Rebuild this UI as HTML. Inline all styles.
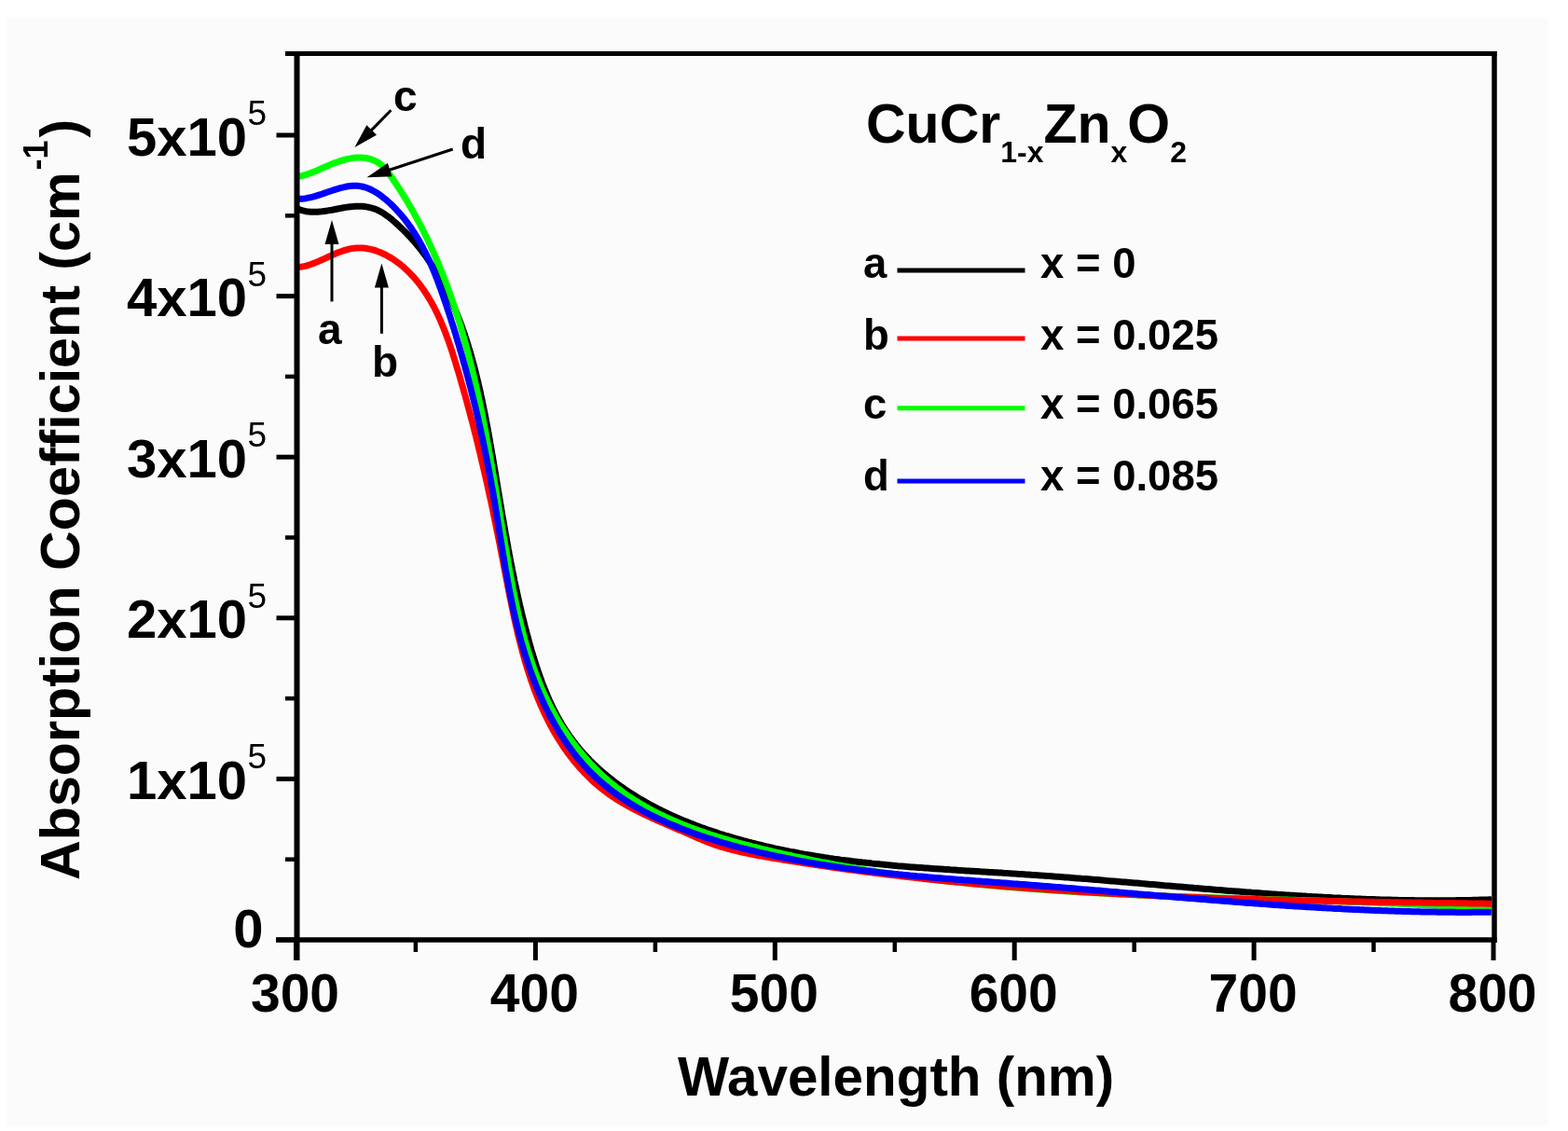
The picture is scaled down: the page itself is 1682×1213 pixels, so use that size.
<!DOCTYPE html><html><head><meta charset="utf-8"><title>Absorption Coefficient vs Wavelength</title>
<style>html,body{margin:0;padding:0;background:#fff;}svg{display:block;}text{font-family:"Liberation Sans",Arial,sans-serif;}</style></head><body>
<svg width="1682" height="1213" viewBox="0 0 1682 1213">
<rect x="0" y="0" width="1682" height="1213" fill="#ffffff"/>
<rect x="7" y="19" width="1654" height="1189" fill="#fbfbfb"/>
<path d="M319.2,223.9L321.5,224.8 323.7,225.6 326.1,226.2 328.4,226.7 330.8,227.1 333.2,227.3 335.7,227.3 338.1,227.3 340.6,227.2 343.1,227.0 345.6,226.8 348.2,226.4 350.7,226.1 353.2,225.6 355.8,225.2 358.4,224.7 360.9,224.2 363.5,223.7 366.0,223.3 368.6,222.8 371.1,222.4 373.6,222.0 376.1,221.7 378.6,221.5 381.1,221.3 383.6,221.2 386.0,221.2 388.4,221.3 390.8,221.5 393.2,221.9 395.5,222.3 397.8,222.8 400.1,223.5 402.3,224.2 404.5,225.1 406.7,226.2 408.8,227.3 410.9,228.5 412.9,229.9 414.9,231.3 416.9,232.7 418.9,234.3 420.8,235.8 422.7,237.5 424.5,239.1 426.4,240.8 428.2,242.5 430.0,244.2 431.8,245.9 433.5,247.6 435.3,249.3 437.0,251.1 438.6,252.9 440.3,254.7 441.9,256.5 443.6,258.3 445.2,260.2 446.7,262.0 448.3,263.9 449.8,265.8 451.3,267.7 452.8,269.6 454.3,271.6 455.7,273.5 457.2,275.5 458.6,277.5 459.9,279.5 461.3,281.5 462.7,283.5 464.0,285.5 465.3,287.6 466.6,289.6 467.9,291.7 469.1,293.8 470.4,295.9 471.6,298.0 472.8,300.1 474.0,302.2 475.1,304.4 476.3,306.5 477.4,308.7 478.5,310.9 479.6,313.1 480.7,315.3 481.8,317.5 482.8,319.7 483.8,321.9 484.9,324.1 485.9,326.4 486.8,328.6 487.8,330.9 488.8,333.2 489.7,335.5 490.6,337.7 491.5,340.0 492.4,342.3 493.3,344.7 494.2,347.0 495.1,349.3 495.9,351.7 496.7,354.0 497.6,356.3 498.4,358.7 499.1,361.1 499.9,363.4 500.7,365.8 501.5,368.2 502.2,370.6 502.9,373.0 503.7,375.4 504.4,377.8 505.1,380.2 505.8,382.6 506.4,385.0 507.1,387.5 507.8,389.9 508.4,392.3 509.1,394.8 509.7,397.2 510.3,399.6 510.9,402.1 511.5,404.5 512.1,407.0 512.7,409.4 513.3,411.9 513.8,414.4 514.4,416.8 515.0,419.3 515.5,421.8 516.0,424.2 516.6,426.7 517.1,429.2 517.6,431.6 518.1,434.1 518.6,436.6 519.1,439.1 519.6,441.5 520.1,444.0 520.6,446.5 521.1,448.9 521.5,451.4 522.0,453.9 522.5,456.4 522.9,458.8 523.4,461.3 523.8,463.8 524.3,466.2 524.7,468.7 525.2,471.2 525.6,473.6 526.0,476.1 526.5,478.5 526.9,481.0 527.3,483.4 527.7,485.9 528.1,488.3 528.6,490.7 529.0,493.2 529.4,495.6 529.8,498.0 530.2,500.5 530.6,502.9 531.0,505.3 531.4,507.7 531.8,510.1 532.2,512.6 532.6,515.0 533.0,517.4 533.4,519.8 533.8,522.2 534.2,524.6 534.6,527.0 535.0,529.4 535.4,531.8 535.8,534.2 536.2,536.6 536.6,539.0 537.0,541.4 537.4,543.8 537.8,546.2 538.2,548.6 538.6,551.0 539.0,553.4 539.4,555.7 539.9,558.1 540.3,560.5 540.7,562.9 541.1,565.3 541.5,567.7 541.9,570.1 542.3,572.4 542.8,574.8 543.2,577.2 543.6,579.6 544.0,582.0 544.5,584.4 544.9,586.7 545.3,589.1 545.8,591.5 546.2,593.9 546.7,596.3 547.1,598.7 547.6,601.1 548.0,603.4 548.5,605.8 549.0,608.2 549.4,610.6 549.9,613.0 550.4,615.4 550.9,617.8 551.4,620.2 551.8,622.6 552.3,625.0 552.8,627.3 553.4,629.7 553.9,632.1 554.4,634.5 554.9,636.9 555.4,639.4 556.0,641.8 556.5,644.2 557.1,646.6 557.6,649.0 558.2,651.4 558.8,653.8 559.3,656.2 559.9,658.7 560.5,661.1 561.1,663.5 561.7,665.9 562.3,668.4 562.9,670.8 563.5,673.2 564.2,675.7 564.8,678.1 565.5,680.6 566.1,683.0 566.8,685.4 567.4,687.9 568.1,690.4 568.8,692.8 569.5,695.3 570.2,697.7 571.0,700.2 571.7,702.6 572.4,705.1 573.2,707.5 574.0,709.9 574.7,712.4 575.5,714.8 576.3,717.2 577.1,719.7 578.0,722.1 578.8,724.5 579.7,726.9 580.6,729.3 581.4,731.7 582.3,734.1 583.3,736.4 584.2,738.8 585.2,741.2 586.1,743.5 587.1,745.8 588.1,748.1 589.1,750.4 590.2,752.7 591.2,755.0 592.3,757.3 593.4,759.5 594.5,761.8 595.7,764.0 596.8,766.2 598.0,768.4 599.2,770.6 600.4,772.7 601.6,774.8 602.9,777.0 604.2,779.1 605.5,781.1 606.8,783.2 608.2,785.2 609.5,787.3 610.9,789.3 612.3,791.2 613.8,793.2 615.2,795.1 616.7,797.0 618.2,798.9 619.7,800.8 621.3,802.7 622.8,804.5 624.4,806.4 626.0,808.2 627.7,809.9 629.3,811.7 631.0,813.5 632.6,815.2 634.3,816.9 636.1,818.6 637.8,820.3 639.5,821.9 641.3,823.6 643.1,825.2 644.9,826.8 646.7,828.4 648.6,830.0 650.4,831.5 652.3,833.1 654.2,834.6 656.1,836.1 658.0,837.6 659.9,839.0 661.9,840.5 663.8,841.9 665.8,843.3 667.8,844.7 669.8,846.1 671.8,847.5 673.9,848.9 675.9,850.2 678.0,851.5 680.0,852.8 682.1,854.1 684.2,855.4 686.3,856.7 688.4,857.9 690.6,859.1 692.7,860.4 694.9,861.6 697.0,862.8 699.2,863.9 701.4,865.1 703.6,866.2 705.8,867.4 708.0,868.5 710.3,869.6 712.5,870.7 714.7,871.7 717.0,872.8 719.3,873.9 721.5,874.9 723.8,875.9 726.1,876.9 728.4,877.9 730.7,878.9 733.0,879.9 735.3,880.8 737.7,881.8 740.0,882.7 742.3,883.6 744.7,884.5 747.0,885.4 749.4,886.3 751.7,887.2 754.1,888.0 756.5,888.9 758.8,889.7 761.2,890.5 763.6,891.3 766.0,892.1 768.4,892.9 770.8,893.7 773.2,894.5 775.6,895.2 778.0,896.0 780.4,896.7 782.8,897.4 785.2,898.1 787.6,898.8 790.0,899.5 792.4,900.2 794.9,900.9 797.3,901.6 799.7,902.2 802.1,902.9 804.5,903.5 806.9,904.1 809.4,904.7 811.8,905.3 814.2,905.9 816.6,906.5 819.0,907.1 821.5,907.7 823.9,908.2 826.3,908.8 828.7,909.3 831.2,909.9 833.6,910.4 836.0,910.9 838.5,911.4 840.9,911.9 843.3,912.4 845.7,912.9 848.2,913.4 850.6,913.8 853.0,914.3 855.5,914.8 857.9,915.2 860.3,915.6 862.8,916.1 865.2,916.5 867.6,916.9 870.1,917.3 872.5,917.7 874.9,918.1 877.4,918.5 879.8,918.9 882.3,919.3 884.7,919.7 887.1,920.0 889.6,920.4 892.0,920.7 894.5,921.1 896.9,921.4 899.3,921.7 901.8,922.1 904.2,922.4 906.7,922.7 909.1,923.0 911.6,923.3 914.0,923.6 916.5,923.9 918.9,924.2 921.4,924.5 923.8,924.8 926.2,925.1 928.7,925.3 931.1,925.6 933.6,925.8 936.0,926.1 938.5,926.4 940.9,926.6 943.4,926.8 945.8,927.1 948.3,927.3 950.8,927.6 953.2,927.8 955.7,928.0 958.1,928.2 960.6,928.4 963.0,928.7 965.5,928.9 967.9,929.1 970.4,929.3 972.8,929.5 975.3,929.7 977.8,929.9 980.2,930.0 982.7,930.2 985.1,930.4 987.6,930.6 990.0,930.8 992.5,931.0 995.0,931.1 997.4,931.3 999.9,931.5 1002.3,931.7 1004.8,931.8 1007.3,932.0 1009.7,932.1 1012.2,932.3 1014.6,932.5 1017.1,932.6 1019.6,932.8 1022.0,932.9 1024.5,933.1 1026.9,933.3 1029.4,933.4 1031.9,933.6 1034.3,933.7 1036.8,933.9 1039.3,934.0 1041.7,934.2 1044.2,934.3 1046.6,934.5 1049.1,934.6 1051.6,934.8 1054.0,934.9 1056.5,935.1 1059.0,935.2 1061.4,935.4 1063.9,935.5 1066.4,935.7 1068.8,935.8 1071.3,936.0 1073.8,936.1 1076.2,936.3 1078.7,936.4 1081.2,936.6 1083.6,936.7 1086.1,936.9 1088.6,937.1 1091.0,937.2 1093.5,937.4 1095.9,937.5 1098.4,937.7 1100.9,937.9 1103.3,938.0 1105.8,938.2 1108.3,938.4 1110.7,938.5 1113.2,938.7 1115.7,938.9 1118.1,939.1 1120.6,939.2 1123.1,939.4 1125.6,939.6 1128.0,939.8 1130.5,940.0 1133.0,940.2 1135.4,940.3 1137.9,940.5 1140.4,940.7 1142.8,940.9 1145.3,941.1 1147.8,941.3 1150.2,941.5 1152.7,941.7 1155.2,941.9 1157.6,942.1 1160.1,942.3 1162.6,942.4 1165.0,942.6 1167.5,942.8 1170.0,943.0 1172.4,943.2 1174.9,943.4 1177.4,943.6 1179.8,943.8 1182.3,944.0 1184.8,944.2 1187.3,944.5 1189.7,944.7 1192.2,944.9 1194.7,945.1 1197.1,945.3 1199.6,945.5 1202.1,945.7 1204.5,945.9 1207.0,946.1 1209.5,946.3 1211.9,946.5 1214.4,946.7 1216.9,946.9 1219.3,947.1 1221.8,947.3 1224.3,947.6 1226.8,947.8 1229.2,948.0 1231.7,948.2 1234.2,948.4 1236.6,948.6 1239.1,948.8 1241.6,949.0 1244.0,949.2 1246.5,949.4 1249.0,949.7 1251.5,949.9 1253.9,950.1 1256.4,950.3 1258.9,950.5 1261.3,950.7 1263.8,950.9 1266.3,951.1 1268.7,951.3 1271.2,951.5 1273.7,951.7 1276.2,951.9 1278.6,952.1 1281.1,952.4 1283.6,952.6 1286.0,952.8 1288.5,953.0 1291.0,953.2 1293.5,953.4 1295.9,953.6 1298.4,953.8 1300.9,954.0 1303.3,954.2 1305.8,954.4 1308.3,954.6 1310.7,954.8 1313.2,955.0 1315.7,955.2 1318.2,955.4 1320.6,955.6 1323.1,955.7 1325.6,955.9 1328.0,956.1 1330.5,956.3 1333.0,956.5 1335.5,956.7 1337.9,956.9 1340.4,957.1 1342.9,957.3 1345.3,957.4 1347.8,957.6 1350.3,957.8 1352.8,958.0 1355.2,958.2 1357.7,958.3 1360.2,958.5 1362.6,958.7 1365.1,958.9 1367.6,959.0 1370.1,959.2 1372.5,959.4 1375.0,959.5 1377.5,959.7 1380.0,959.9 1382.4,960.0 1384.9,960.2 1387.4,960.3 1389.8,960.5 1392.3,960.7 1394.8,960.8 1397.3,961.0 1399.7,961.1 1402.2,961.3 1404.7,961.4 1407.1,961.6 1409.6,961.7 1412.1,961.8 1414.6,962.0 1417.0,962.1 1419.5,962.2 1422.0,962.4 1424.4,962.5 1426.9,962.6 1429.4,962.8 1431.9,962.9 1434.3,963.0 1436.8,963.1 1439.3,963.3 1441.7,963.4 1444.2,963.5 1446.7,963.6 1449.2,963.7 1451.6,963.8 1454.1,963.9 1456.6,964.0 1459.1,964.1 1461.5,964.2 1464.0,964.3 1466.5,964.4 1468.9,964.5 1471.4,964.6 1473.9,964.6 1476.4,964.7 1478.8,964.8 1481.3,964.9 1483.8,964.9 1486.2,965.0 1488.7,965.1 1491.2,965.1 1493.7,965.2 1496.1,965.3 1498.6,965.3 1501.1,965.4 1503.6,965.4 1506.0,965.5 1508.5,965.5 1511.0,965.6 1513.4,965.6 1515.9,965.6 1518.4,965.7 1520.9,965.7 1523.3,965.7 1525.8,965.7 1528.3,965.7 1530.7,965.8 1533.2,965.8 1535.7,965.8 1538.2,965.8 1540.6,965.8 1543.1,965.8 1545.6,965.8 1548.1,965.8 1550.5,965.8 1553.0,965.7 1555.5,965.7 1557.9,965.7 1560.4,965.7 1562.9,965.6 1565.4,965.6 1567.8,965.6 1570.3,965.5 1572.8,965.5 1575.2,965.4 1577.7,965.4 1580.2,965.3 1582.7,965.3 1585.1,965.2 1587.6,965.1 1590.1,965.0 1592.5,965.0 1595.0,964.9 1597.5,964.8 1600.0,964.7" fill="none" stroke="#000000" stroke-width="7.0" stroke-linejoin="round" stroke-linecap="butt"/>
<path d="M319.5,189.4L321.6,189.1 323.8,188.6 326.0,188.0 328.2,187.3 330.5,186.6 332.8,185.7 335.1,184.8 337.4,183.9 339.8,182.9 342.2,181.9 344.6,180.8 347.0,179.8 349.5,178.7 351.9,177.7 354.4,176.6 356.9,175.6 359.4,174.6 362.0,173.7 364.5,172.8 367.0,172.0 369.6,171.3 372.1,170.6 374.7,170.1 377.2,169.6 379.8,169.2 382.3,169.0 384.9,168.9 387.4,169.0 390.0,169.2 392.4,169.5 394.9,170.0 397.3,170.6 399.6,171.4 401.9,172.3 404.1,173.4 406.1,174.7 408.1,176.1 410.0,177.7 411.7,179.5 413.4,181.3 415.0,183.3 416.6,185.3 418.1,187.4 419.6,189.5 421.1,191.6 422.5,193.7 424.0,195.8 425.4,198.0 426.8,200.1 428.2,202.3 429.6,204.4 431.0,206.6 432.3,208.8 433.7,210.9 435.0,213.1 436.3,215.3 437.6,217.5 438.9,219.7 440.2,221.9 441.5,224.1 442.7,226.3 444.0,228.5 445.2,230.7 446.4,233.0 447.6,235.2 448.8,237.4 450.0,239.7 451.2,241.9 452.3,244.1 453.5,246.4 454.6,248.7 455.7,250.9 456.9,253.2 458.0,255.5 459.1,257.7 460.1,260.0 461.2,262.3 462.3,264.6 463.3,266.9 464.4,269.2 465.4,271.5 466.4,273.8 467.4,276.1 468.4,278.4 469.4,280.7 470.4,283.1 471.3,285.4 472.3,287.7 473.2,290.1 474.2,292.4 475.1,294.7 476.0,297.1 476.9,299.4 477.8,301.8 478.7,304.1 479.6,306.5 480.4,308.9 481.3,311.2 482.2,313.6 483.0,316.0 483.8,318.4 484.7,320.8 485.5,323.1 486.3,325.5 487.1,327.9 487.9,330.3 488.7,332.7 489.4,335.1 490.2,337.5 491.0,340.0 491.7,342.4 492.4,344.8 493.2,347.2 493.9,349.6 494.6,352.0 495.3,354.5 496.1,356.9 496.8,359.3 497.4,361.8 498.1,364.2 498.8,366.7 499.5,369.1 500.1,371.6 500.8,374.0 501.5,376.5 502.1,378.9 502.7,381.4 503.4,383.8 504.0,386.3 504.6,388.8 505.2,391.2 505.8,393.7 506.4,396.2 507.0,398.6 507.6,401.1 508.2,403.6 508.8,406.1 509.4,408.6 509.9,411.1 510.5,413.5 511.1,416.0 511.6,418.5 512.2,421.0 512.7,423.5 513.3,426.0 513.8,428.5 514.3,431.0 514.9,433.5 515.4,436.0 515.9,438.5 516.4,441.0 516.9,443.5 517.4,446.0 517.9,448.5 518.4,451.1 518.9,453.6 519.4,456.1 519.9,458.6 520.4,461.1 520.9,463.6 521.3,466.2 521.8,468.7 522.3,471.2 522.8,473.7 523.2,476.2 523.7,478.8 524.2,481.3 524.6,483.8 525.1,486.4 525.5,488.9 526.0,491.4 526.4,493.9 526.9,496.5 527.3,499.0 527.8,501.5 528.2,504.1 528.6,506.6 529.1,509.1 529.5,511.7 530.0,514.2 530.4,516.7 530.8,519.3 531.3,521.8 531.7,524.3 532.1,526.9 532.6,529.4 533.0,532.0 533.4,534.5 533.8,537.0 534.3,539.6 534.7,542.1 535.1,544.6 535.5,547.2 536.0,549.7 536.4,552.2 536.8,554.8 537.2,557.3 537.7,559.9 538.1,562.4 538.5,564.9 538.9,567.5 539.4,570.0 539.8,572.5 540.2,575.1 540.7,577.6 541.1,580.1 541.5,582.7 542.0,585.2 542.4,587.7 542.8,590.2 543.3,592.8 543.7,595.3 544.2,597.8 544.6,600.4 545.0,602.9 545.5,605.4 545.9,607.9 546.4,610.4 546.8,613.0 547.3,615.5 547.8,618.0 548.2,620.5 548.7,623.0 549.2,625.5 549.7,628.1 550.1,630.6 550.6,633.1 551.1,635.6 551.6,638.1 552.1,640.6 552.6,643.1 553.2,645.6 553.7,648.0 554.2,650.5 554.8,653.0 555.3,655.5 555.9,658.0 556.4,660.5 557.0,662.9 557.6,665.4 558.2,667.9 558.8,670.3 559.4,672.8 560.0,675.2 560.6,677.7 561.3,680.1 561.9,682.6 562.6,685.0 563.3,687.4 564.0,689.9 564.7,692.3 565.4,694.7 566.1,697.1 566.9,699.5 567.6,701.9 568.4,704.3 569.2,706.7 570.0,709.1 570.8,711.5 571.6,713.9 572.4,716.2 573.3,718.6 574.1,721.0 575.0,723.3 575.9,725.7 576.9,728.0 577.8,730.3 578.7,732.7 579.7,735.0 580.7,737.3 581.7,739.6 582.7,741.9 583.8,744.2 584.8,746.5 585.9,748.8 587.0,751.0 588.1,753.3 589.3,755.6 590.4,757.8 591.6,760.1 592.8,762.3 594.0,764.5 595.3,766.8 596.5,769.0 597.8,771.2 599.1,773.4 600.4,775.6 601.8,777.7 603.2,779.9 604.6,782.1 606.0,784.2 607.4,786.3 608.9,788.5 610.3,790.6 611.8,792.7 613.4,794.7 614.9,796.8 616.5,798.9 618.0,800.9 619.6,802.9 621.2,805.0 622.9,807.0 624.5,808.9 626.2,810.9 627.9,812.8 629.6,814.8 631.3,816.7 633.0,818.6 634.8,820.4 636.6,822.3 638.4,824.1 640.2,825.9 642.0,827.7 643.9,829.5 645.7,831.2 647.6,833.0 649.5,834.7 651.4,836.3 653.3,838.0 655.2,839.6 657.2,841.2 659.2,842.8 661.2,844.4 663.1,845.9 665.2,847.4 667.2,848.9 669.2,850.4 671.3,851.8 673.3,853.3 675.4,854.7 677.5,856.0 679.6,857.4 681.7,858.8 683.9,860.1 686.0,861.4 688.2,862.7 690.3,863.9 692.5,865.2 694.7,866.4 696.9,867.6 699.1,868.8 701.4,870.0 703.6,871.1 705.8,872.3 708.1,873.4 710.4,874.5 712.6,875.6 714.9,876.7 717.2,877.7 719.5,878.8 721.8,879.8 724.1,880.8 726.5,881.8 728.8,882.8 731.2,883.7 733.5,884.7 735.9,885.6 738.2,886.5 740.6,887.5 743.0,888.3 745.4,889.2 747.8,890.1 750.2,891.0 752.6,891.8 755.0,892.6 757.4,893.5 759.9,894.3 762.3,895.1 764.7,895.8 767.2,896.6 769.6,897.4 772.1,898.1 774.5,898.9 777.0,899.6 779.5,900.3 781.9,901.1 784.4,901.8 786.9,902.5 789.4,903.2 791.8,903.8 794.3,904.5 796.8,905.2 799.3,905.8 801.8,906.5 804.3,907.1 806.8,907.8 809.3,908.4 811.8,909.0 814.3,909.7 816.8,910.3 819.3,910.9 821.8,911.5 824.3,912.1 826.8,912.7 829.3,913.3 831.8,913.9 834.3,914.4 836.8,915.0 839.3,915.6 841.8,916.1 844.3,916.7 846.8,917.3 849.3,917.8 851.8,918.4 854.3,918.9 856.8,919.4 859.3,920.0 861.8,920.5 864.3,921.0 866.8,921.5 869.3,922.1 871.8,922.6 874.4,923.1 876.9,923.6 879.4,924.1 881.9,924.6 884.4,925.0 886.9,925.5 889.4,926.0 891.9,926.5 894.4,927.0 896.9,927.4 899.5,927.9 902.0,928.3 904.5,928.8 907.0,929.2 909.5,929.7 912.0,930.1 914.5,930.6 917.0,931.0 919.6,931.4 922.1,931.8 924.6,932.3 927.1,932.7 929.6,933.1 932.1,933.5 934.6,933.9 937.2,934.3 939.7,934.7 942.2,935.1 944.7,935.5 947.2,935.9 949.7,936.2 952.3,936.6 954.8,937.0 957.3,937.4 959.8,937.7 962.3,938.1 964.9,938.4 967.4,938.8 969.9,939.1 972.4,939.5 974.9,939.8 977.5,940.2 980.0,940.5 982.5,940.8 985.0,941.2 987.6,941.5 990.1,941.8 992.6,942.1 995.1,942.5 997.6,942.8 1000.2,943.1 1002.7,943.4 1005.2,943.7 1007.7,944.0 1010.3,944.3 1012.8,944.6 1015.3,944.9 1017.8,945.2 1020.4,945.4 1022.9,945.7 1025.4,946.0 1027.9,946.3 1030.5,946.5 1033.0,946.8 1035.5,947.1 1038.1,947.3 1040.6,947.6 1043.1,947.9 1045.6,948.1 1048.2,948.4 1050.7,948.6 1053.2,948.8 1055.8,949.1 1058.3,949.3 1060.8,949.6 1063.3,949.8 1065.9,950.0 1068.4,950.3 1070.9,950.5 1073.5,950.7 1076.0,950.9 1078.5,951.1 1081.1,951.4 1083.6,951.6 1086.1,951.8 1088.7,952.0 1091.2,952.2 1093.7,952.4 1096.3,952.6 1098.8,952.8 1101.3,953.0 1103.9,953.2 1106.4,953.4 1108.9,953.6 1111.5,953.7 1114.0,953.9 1116.5,954.1 1119.1,954.3 1121.6,954.5 1124.1,954.6 1126.7,954.8 1129.2,955.0 1131.7,955.1 1134.3,955.3 1136.8,955.5 1139.3,955.6 1141.9,955.8 1144.4,956.0 1147.0,956.1 1149.5,956.3 1152.0,956.4 1154.6,956.6 1157.1,956.7 1159.6,956.9 1162.2,957.0 1164.7,957.1 1167.3,957.3 1169.8,957.4 1172.3,957.6 1174.9,957.7 1177.4,957.8 1180.0,958.0 1182.5,958.1 1185.0,958.2 1187.6,958.4 1190.1,958.5 1192.7,958.6 1195.2,958.7 1197.7,958.8 1200.3,959.0 1202.8,959.1 1205.4,959.2 1207.9,959.3 1210.4,959.4 1213.0,959.5 1215.5,959.7 1218.1,959.8 1220.6,959.9 1223.1,960.0 1225.7,960.1 1228.2,960.2 1230.8,960.3 1233.3,960.4 1235.9,960.5 1238.4,960.6 1240.9,960.7 1243.5,960.8 1246.0,960.9 1248.6,961.0 1251.1,961.1 1253.7,961.2 1256.2,961.3 1258.7,961.4 1261.3,961.5 1263.8,961.5 1266.4,961.6 1268.9,961.7 1271.5,961.8 1274.0,961.9 1276.6,962.0 1279.1,962.1 1281.6,962.1 1284.2,962.2 1286.7,962.3 1289.3,962.4 1291.8,962.5 1294.4,962.6 1296.9,962.6 1299.5,962.7 1302.0,962.8 1304.6,962.9 1307.1,963.0 1309.6,963.0 1312.2,963.1 1314.7,963.2 1317.3,963.3 1319.8,963.3 1322.4,963.4 1324.9,963.5 1327.5,963.6 1330.0,963.6 1332.6,963.7 1335.1,963.8 1337.7,963.9 1340.2,963.9 1342.7,964.0 1345.3,964.1 1347.8,964.2 1350.4,964.2 1352.9,964.3 1355.5,964.4 1358.0,964.5 1360.6,964.5 1363.1,964.6 1365.7,964.7 1368.2,964.8 1370.8,964.8 1373.3,964.9 1375.9,965.0 1378.4,965.0 1381.0,965.1 1383.5,965.2 1386.1,965.3 1388.6,965.3 1391.2,965.4 1393.7,965.5 1396.2,965.6 1398.8,965.6 1401.3,965.7 1403.9,965.8 1406.4,965.9 1409.0,966.0 1411.5,966.0 1414.1,966.1 1416.6,966.2 1419.2,966.3 1421.7,966.3 1424.3,966.4 1426.8,966.5 1429.4,966.6 1431.9,966.7 1434.5,966.8 1437.0,966.8 1439.6,966.9 1442.1,967.0 1444.7,967.1 1447.2,967.2 1449.8,967.3 1452.3,967.4 1454.9,967.5 1457.4,967.5 1460.0,967.6 1462.5,967.7 1465.1,967.8 1467.6,967.9 1470.2,968.0 1472.7,968.1 1475.3,968.2 1477.8,968.3 1480.3,968.4 1482.9,968.5 1485.4,968.6 1488.0,968.7 1490.5,968.8 1493.1,968.9 1495.6,969.0 1498.2,969.1 1500.7,969.2 1503.3,969.3 1505.8,969.5 1508.4,969.6 1510.9,969.7 1513.5,969.8 1516.0,969.9 1518.6,970.0 1521.1,970.2 1523.7,970.3 1526.2,970.4 1528.8,970.5 1531.3,970.7 1533.9,970.8 1536.4,970.9 1539.0,971.0 1541.5,971.2 1544.1,971.3 1546.6,971.4 1549.2,971.6 1551.7,971.7 1554.2,971.9 1556.8,972.0 1559.3,972.1 1561.9,972.3 1564.4,972.4 1567.0,972.6 1569.5,972.7 1572.1,972.9 1574.6,973.1 1577.2,973.2 1579.7,973.4 1582.3,973.5 1584.8,973.7 1587.4,973.9 1589.9,974.0 1592.5,974.2 1595.0,974.4 1597.5,974.6 1600.1,974.7" fill="none" stroke="#00ff00" stroke-width="7.0" stroke-linejoin="round" stroke-linecap="butt"/>
<path d="M319.3,286.4L321.5,286.3 323.7,286.0 326.0,285.6 328.2,285.1 330.5,284.5 332.8,283.7 335.1,282.9 337.5,282.0 339.8,281.1 342.1,280.1 344.5,279.0 346.9,278.0 349.2,276.9 351.6,275.8 354.0,274.7 356.4,273.6 358.8,272.6 361.2,271.5 363.5,270.6 365.9,269.7 368.3,268.9 370.7,268.1 373.1,267.5 375.5,266.9 377.8,266.5 380.2,266.2 382.6,266.0 384.9,265.9 387.3,266.0 389.6,266.1 391.9,266.3 394.2,266.7 396.5,267.1 398.7,267.6 401.0,268.2 403.2,268.9 405.4,269.7 407.6,270.5 409.8,271.5 411.9,272.5 414.1,273.5 416.1,274.7 418.2,275.9 420.3,277.1 422.3,278.4 424.2,279.8 426.2,281.2 428.1,282.6 430.0,284.1 431.8,285.6 433.6,287.2 435.4,288.8 437.1,290.4 438.8,292.1 440.5,293.8 442.1,295.5 443.7,297.2 445.3,299.0 446.8,300.8 448.3,302.7 449.8,304.6 451.3,306.4 452.7,308.4 454.0,310.3 455.4,312.3 456.7,314.3 458.0,316.3 459.3,318.3 460.5,320.4 461.8,322.5 462.9,324.6 464.1,326.7 465.3,328.8 466.4,331.0 467.5,333.2 468.6,335.4 469.6,337.6 470.7,339.8 471.7,342.0 472.7,344.3 473.6,346.6 474.6,348.9 475.5,351.2 476.5,353.5 477.4,355.8 478.3,358.1 479.1,360.4 480.0,362.8 480.9,365.1 481.7,367.5 482.5,369.9 483.3,372.2 484.1,374.6 484.9,377.0 485.7,379.4 486.4,381.8 487.2,384.2 487.9,386.6 488.7,389.0 489.4,391.4 490.1,393.8 490.8,396.2 491.6,398.6 492.3,401.0 493.0,403.4 493.7,405.8 494.3,408.1 495.0,410.5 495.7,412.9 496.4,415.3 497.1,417.7 497.7,420.0 498.4,422.4 499.1,424.8 499.7,427.2 500.4,429.5 501.0,431.9 501.7,434.3 502.3,436.6 502.9,439.0 503.6,441.3 504.2,443.7 504.8,446.1 505.4,448.4 506.1,450.8 506.7,453.1 507.3,455.5 507.9,457.8 508.5,460.2 509.1,462.5 509.7,464.9 510.3,467.2 510.9,469.6 511.4,471.9 512.0,474.2 512.6,476.6 513.2,478.9 513.7,481.3 514.3,483.6 514.9,485.9 515.4,488.3 516.0,490.6 516.5,493.0 517.1,495.3 517.6,497.7 518.2,500.0 518.7,502.3 519.3,504.7 519.8,507.0 520.3,509.4 520.9,511.7 521.4,514.0 521.9,516.4 522.5,518.7 523.0,521.1 523.5,523.4 524.0,525.8 524.5,528.1 525.0,530.4 525.5,532.8 526.1,535.1 526.6,537.5 527.1,539.8 527.6,542.2 528.1,544.5 528.6,546.9 529.1,549.3 529.5,551.6 530.0,554.0 530.5,556.3 531.0,558.7 531.5,561.1 532.0,563.4 532.5,565.8 532.9,568.2 533.4,570.5 533.9,572.9 534.4,575.3 534.9,577.7 535.3,580.0 535.8,582.4 536.3,584.8 536.7,587.2 537.2,589.6 537.7,592.0 538.1,594.4 538.6,596.8 539.1,599.2 539.5,601.6 540.0,604.0 540.4,606.4 540.9,608.8 541.4,611.2 541.8,613.6 542.3,616.0 542.8,618.4 543.2,620.9 543.7,623.3 544.2,625.7 544.6,628.1 545.1,630.6 545.6,633.0 546.0,635.4 546.5,637.8 547.0,640.3 547.5,642.7 548.0,645.1 548.5,647.5 549.0,650.0 549.5,652.4 550.0,654.8 550.5,657.2 551.0,659.6 551.5,662.1 552.0,664.5 552.6,666.9 553.1,669.3 553.7,671.7 554.2,674.1 554.8,676.5 555.3,678.9 555.9,681.3 556.5,683.7 557.1,686.1 557.7,688.5 558.3,690.9 558.9,693.3 559.6,695.7 560.2,698.1 560.8,700.5 561.5,702.8 562.2,705.2 562.8,707.6 563.5,709.9 564.2,712.3 564.9,714.6 565.6,717.0 566.4,719.3 567.1,721.6 567.9,723.9 568.7,726.3 569.4,728.6 570.2,730.9 571.0,733.2 571.9,735.5 572.7,737.8 573.5,740.1 574.4,742.3 575.3,744.6 576.2,746.9 577.1,749.1 578.0,751.4 579.0,753.6 579.9,755.8 580.9,758.1 581.9,760.3 582.9,762.5 583.9,764.7 585.0,766.9 586.0,769.0 587.1,771.2 588.2,773.4 589.3,775.5 590.4,777.7 591.6,779.8 592.7,781.9 593.9,784.0 595.1,786.1 596.4,788.2 597.6,790.3 598.9,792.3 600.2,794.4 601.5,796.4 602.8,798.5 604.1,800.5 605.5,802.5 606.9,804.5 608.3,806.4 609.7,808.4 611.2,810.3 612.6,812.2 614.1,814.1 615.6,816.0 617.1,817.9 618.7,819.7 620.3,821.6 621.8,823.4 623.5,825.2 625.1,826.9 626.7,828.7 628.4,830.4 630.1,832.1 631.8,833.8 633.6,835.5 635.3,837.2 637.1,838.8 638.9,840.4 640.7,841.9 642.6,843.5 644.4,845.0 646.3,846.5 648.2,848.0 650.2,849.5 652.1,850.9 654.1,852.3 656.1,853.7 658.1,855.0 660.1,856.4 662.2,857.7 664.3,858.9 666.4,860.2 668.5,861.5 670.6,862.7 672.7,863.9 674.9,865.1 677.0,866.3 679.2,867.4 681.4,868.6 683.6,869.7 685.8,870.8 688.0,871.9 690.2,873.0 692.5,874.1 694.7,875.1 697.0,876.2 699.2,877.2 701.5,878.2 703.8,879.3 706.0,880.3 708.3,881.3 710.6,882.3 712.9,883.3 715.1,884.3 717.4,885.3 719.7,886.3 722.0,887.2 724.3,888.2 726.5,889.2 728.8,890.2 731.1,891.1 733.4,892.1 735.6,893.1 737.9,894.1 740.1,895.1 742.4,896.1 744.6,897.0 746.8,898.0 749.1,899.0 751.3,899.9 753.5,900.9 755.8,901.8 758.0,902.7 760.3,903.6 762.6,904.4 764.8,905.3 767.1,906.1 769.4,906.8 771.7,907.6 774.0,908.3 776.3,909.0 778.7,909.7 781.0,910.3 783.3,910.9 785.7,911.6 788.0,912.1 790.4,912.7 792.8,913.3 795.1,913.8 797.5,914.3 799.9,914.9 802.3,915.4 804.6,915.8 807.0,916.3 809.4,916.8 811.8,917.2 814.2,917.7 816.6,918.1 819.0,918.5 821.4,919.0 823.8,919.4 826.2,919.8 828.7,920.2 831.1,920.6 833.5,921.0 835.9,921.4 838.3,921.8 840.7,922.2 843.1,922.6 845.5,923.0 847.9,923.4 850.4,923.8 852.8,924.1 855.2,924.5 857.6,924.9 860.0,925.3 862.4,925.7 864.8,926.0 867.2,926.4 869.7,926.8 872.1,927.1 874.5,927.5 876.9,927.9 879.3,928.2 881.7,928.6 884.1,928.9 886.6,929.3 889.0,929.6 891.4,930.0 893.8,930.3 896.2,930.7 898.6,931.0 901.1,931.3 903.5,931.7 905.9,932.0 908.3,932.3 910.7,932.7 913.1,933.0 915.6,933.3 918.0,933.6 920.4,934.0 922.8,934.3 925.2,934.6 927.7,934.9 930.1,935.2 932.5,935.5 934.9,935.8 937.3,936.2 939.8,936.5 942.2,936.8 944.6,937.1 947.0,937.4 949.5,937.7 951.9,938.0 954.3,938.2 956.7,938.5 959.1,938.8 961.6,939.1 964.0,939.4 966.4,939.7 968.8,940.0 971.3,940.2 973.7,940.5 976.1,940.8 978.5,941.1 981.0,941.3 983.4,941.6 985.8,941.9 988.2,942.1 990.7,942.4 993.1,942.7 995.5,942.9 997.9,943.2 1000.4,943.4 1002.8,943.7 1005.2,943.9 1007.6,944.2 1010.1,944.4 1012.5,944.7 1014.9,944.9 1017.3,945.2 1019.8,945.4 1022.2,945.6 1024.6,945.9 1027.1,946.1 1029.5,946.3 1031.9,946.6 1034.3,946.8 1036.8,947.0 1039.2,947.3 1041.6,947.5 1044.1,947.7 1046.5,947.9 1048.9,948.2 1051.4,948.4 1053.8,948.6 1056.2,948.8 1058.6,949.0 1061.1,949.2 1063.5,949.4 1065.9,949.6 1068.4,949.8 1070.8,950.1 1073.2,950.3 1075.7,950.5 1078.1,950.7 1080.5,950.9 1083.0,951.1 1085.4,951.2 1087.8,951.4 1090.3,951.6 1092.7,951.8 1095.1,952.0 1097.6,952.2 1100.0,952.4 1102.4,952.6 1104.9,952.7 1107.3,952.9 1109.7,953.1 1112.2,953.3 1114.6,953.5 1117.0,953.6 1119.5,953.8 1121.9,954.0 1124.3,954.2 1126.8,954.3 1129.2,954.5 1131.6,954.7 1134.1,954.8 1136.5,955.0 1138.9,955.1 1141.4,955.3 1143.8,955.5 1146.2,955.6 1148.7,955.8 1151.1,955.9 1153.6,956.1 1156.0,956.2 1158.4,956.4 1160.9,956.5 1163.3,956.7 1165.7,956.8 1168.2,957.0 1170.6,957.1 1173.0,957.3 1175.5,957.4 1177.9,957.5 1180.4,957.7 1182.8,957.8 1185.2,958.0 1187.7,958.1 1190.1,958.2 1192.5,958.4 1195.0,958.5 1197.4,958.6 1199.9,958.8 1202.3,958.9 1204.7,959.0 1207.2,959.1 1209.6,959.3 1212.0,959.4 1214.5,959.5 1216.9,959.6 1219.4,959.7 1221.8,959.9 1224.2,960.0 1226.7,960.1 1229.1,960.2 1231.6,960.3 1234.0,960.4 1236.4,960.5 1238.9,960.7 1241.3,960.8 1243.8,960.9 1246.2,961.0 1248.6,961.1 1251.1,961.2 1253.5,961.3 1255.9,961.4 1258.4,961.5 1260.8,961.6 1263.3,961.7 1265.7,961.8 1268.1,961.9 1270.6,962.0 1273.0,962.1 1275.5,962.2 1277.9,962.3 1280.3,962.4 1282.8,962.5 1285.2,962.6 1287.7,962.6 1290.1,962.7 1292.5,962.8 1295.0,962.9 1297.4,963.0 1299.9,963.1 1302.3,963.2 1304.8,963.3 1307.2,963.3 1309.6,963.4 1312.1,963.5 1314.5,963.6 1317.0,963.7 1319.4,963.7 1321.8,963.8 1324.3,963.9 1326.7,964.0 1329.2,964.0 1331.6,964.1 1334.0,964.2 1336.5,964.3 1338.9,964.3 1341.4,964.4 1343.8,964.5 1346.2,964.5 1348.7,964.6 1351.1,964.7 1353.6,964.8 1356.0,964.8 1358.5,964.9 1360.9,965.0 1363.3,965.0 1365.8,965.1 1368.2,965.1 1370.7,965.2 1373.1,965.3 1375.5,965.3 1378.0,965.4 1380.4,965.5 1382.9,965.5 1385.3,965.6 1387.7,965.6 1390.2,965.7 1392.6,965.7 1395.1,965.8 1397.5,965.9 1400.0,965.9 1402.4,966.0 1404.8,966.0 1407.3,966.1 1409.7,966.1 1412.2,966.2 1414.6,966.2 1417.0,966.3 1419.5,966.3 1421.9,966.4 1424.4,966.4 1426.8,966.5 1429.2,966.5 1431.7,966.6 1434.1,966.6 1436.6,966.7 1439.0,966.7 1441.4,966.8 1443.9,966.8 1446.3,966.9 1448.8,966.9 1451.2,967.0 1453.6,967.0 1456.1,967.0 1458.5,967.1 1461.0,967.1 1463.4,967.2 1465.8,967.2 1468.3,967.3 1470.7,967.3 1473.2,967.3 1475.6,967.4 1478.0,967.4 1480.5,967.5 1482.9,967.5 1485.4,967.5 1487.8,967.6 1490.2,967.6 1492.7,967.7 1495.1,967.7 1497.6,967.7 1500.0,967.8 1502.4,967.8 1504.9,967.9 1507.3,967.9 1509.8,967.9 1512.2,968.0 1514.6,968.0 1517.1,968.0 1519.5,968.1 1522.0,968.1 1524.4,968.1 1526.8,968.2 1529.3,968.2 1531.7,968.3 1534.1,968.3 1536.6,968.3 1539.0,968.4 1541.5,968.4 1543.9,968.4 1546.3,968.5 1548.8,968.5 1551.2,968.5 1553.6,968.6 1556.1,968.6 1558.5,968.6 1561.0,968.7 1563.4,968.7 1565.8,968.7 1568.3,968.8 1570.7,968.8 1573.1,968.8 1575.6,968.9 1578.0,968.9 1580.5,969.0 1582.9,969.0 1585.3,969.0 1587.8,969.1 1590.2,969.1 1592.6,969.1 1595.1,969.2 1597.5,969.2 1599.9,969.2" fill="none" stroke="#ff0000" stroke-width="7.0" stroke-linejoin="round" stroke-linecap="butt"/>
<path d="M319.3,213.2L321.5,213.3 323.8,213.2 326.1,213.0 328.5,212.7 330.8,212.2 333.3,211.7 335.7,211.1 338.2,210.4 340.6,209.6 343.1,208.8 345.7,208.0 348.2,207.1 350.7,206.2 353.3,205.3 355.9,204.5 358.4,203.6 361.0,202.8 363.5,202.1 366.0,201.4 368.6,200.8 371.1,200.2 373.6,199.8 376.1,199.5 378.5,199.3 380.9,199.2 383.3,199.3 385.7,199.6 388.0,200.0 390.3,200.5 392.6,201.2 394.9,202.0 397.1,203.0 399.2,204.0 401.4,205.2 403.5,206.4 405.5,207.7 407.6,209.2 409.6,210.6 411.5,212.2 413.5,213.7 415.4,215.4 417.2,217.0 419.1,218.7 420.9,220.4 422.6,222.2 424.4,224.0 426.0,225.8 427.7,227.6 429.3,229.4 431.0,231.3 432.5,233.2 434.1,235.1 435.6,237.1 437.1,239.1 438.5,241.1 440.0,243.1 441.4,245.1 442.7,247.2 444.1,249.2 445.4,251.3 446.7,253.4 448.0,255.6 449.3,257.7 450.5,259.9 451.7,262.1 452.9,264.2 454.1,266.5 455.2,268.7 456.3,270.9 457.4,273.2 458.5,275.4 459.6,277.7 460.7,280.0 461.7,282.3 462.7,284.6 463.7,287.0 464.7,289.3 465.7,291.6 466.6,294.0 467.6,296.4 468.5,298.7 469.4,301.1 470.3,303.5 471.2,305.9 472.1,308.3 473.0,310.7 473.8,313.1 474.7,315.5 475.5,317.9 476.3,320.3 477.2,322.7 478.0,325.1 478.8,327.5 479.6,330.0 480.4,332.4 481.2,334.8 482.0,337.2 482.8,339.6 483.6,342.1 484.3,344.5 485.1,346.9 485.9,349.3 486.6,351.7 487.4,354.1 488.1,356.6 488.9,359.0 489.6,361.4 490.3,363.8 491.0,366.2 491.8,368.7 492.5,371.1 493.2,373.5 493.9,375.9 494.6,378.3 495.3,380.8 496.0,383.2 496.6,385.6 497.3,388.0 498.0,390.4 498.7,392.9 499.3,395.3 500.0,397.7 500.6,400.1 501.3,402.5 501.9,405.0 502.6,407.4 503.2,409.8 503.8,412.2 504.5,414.7 505.1,417.1 505.7,419.5 506.3,421.9 506.9,424.4 507.5,426.8 508.1,429.2 508.7,431.7 509.3,434.1 509.9,436.5 510.5,438.9 511.0,441.4 511.6,443.8 512.2,446.2 512.7,448.7 513.3,451.1 513.8,453.5 514.4,456.0 514.9,458.4 515.5,460.8 516.0,463.3 516.5,465.7 517.1,468.2 517.6,470.6 518.1,473.0 518.6,475.5 519.1,477.9 519.6,480.4 520.1,482.8 520.6,485.3 521.1,487.7 521.6,490.1 522.1,492.6 522.6,495.0 523.1,497.5 523.6,499.9 524.0,502.4 524.5,504.8 525.0,507.3 525.4,509.7 525.9,512.2 526.3,514.7 526.8,517.1 527.2,519.6 527.7,522.0 528.1,524.5 528.6,526.9 529.0,529.4 529.4,531.9 529.8,534.3 530.3,536.8 530.7,539.3 531.1,541.7 531.5,544.2 531.9,546.7 532.3,549.1 532.7,551.6 533.1,554.1 533.5,556.6 533.9,559.0 534.3,561.5 534.7,564.0 535.1,566.5 535.5,568.9 535.9,571.4 536.3,573.9 536.7,576.4 537.1,578.8 537.5,581.3 537.9,583.8 538.3,586.3 538.7,588.8 539.1,591.2 539.5,593.7 539.9,596.2 540.3,598.7 540.8,601.2 541.2,603.6 541.6,606.1 542.0,608.6 542.4,611.1 542.9,613.5 543.3,616.0 543.7,618.5 544.2,621.0 544.6,623.4 545.1,625.9 545.6,628.4 546.0,630.9 546.5,633.3 547.0,635.8 547.5,638.3 548.0,640.7 548.5,643.2 549.0,645.7 549.5,648.1 550.0,650.6 550.5,653.1 551.1,655.5 551.6,658.0 552.2,660.5 552.7,662.9 553.3,665.4 553.9,667.8 554.5,670.3 555.1,672.7 555.7,675.2 556.3,677.6 557.0,680.1 557.6,682.5 558.3,685.0 558.9,687.4 559.6,689.8 560.3,692.3 561.0,694.7 561.8,697.1 562.5,699.6 563.2,702.0 564.0,704.4 564.8,706.8 565.6,709.2 566.4,711.7 567.2,714.1 568.0,716.5 568.8,718.9 569.7,721.3 570.6,723.7 571.5,726.0 572.4,728.4 573.3,730.8 574.2,733.2 575.1,735.5 576.1,737.9 577.1,740.2 578.1,742.6 579.1,744.9 580.1,747.2 581.1,749.5 582.2,751.8 583.3,754.1 584.3,756.4 585.4,758.7 586.6,761.0 587.7,763.2 588.8,765.5 590.0,767.7 591.2,769.9 592.4,772.1 593.6,774.3 594.8,776.5 596.1,778.7 597.4,780.8 598.6,783.0 599.9,785.1 601.3,787.2 602.6,789.3 604.0,791.4 605.3,793.5 606.7,795.6 608.1,797.6 609.6,799.6 611.0,801.7 612.5,803.7 614.0,805.6 615.5,807.6 617.0,809.5 618.5,811.5 620.1,813.4 621.7,815.3 623.2,817.1 624.9,819.0 626.5,820.8 628.2,822.6 629.8,824.4 631.5,826.2 633.2,827.9 635.0,829.7 636.7,831.4 638.5,833.1 640.3,834.7 642.1,836.4 643.9,838.0 645.8,839.6 647.7,841.2 649.6,842.8 651.5,844.3 653.4,845.9 655.3,847.4 657.3,848.8 659.3,850.3 661.3,851.8 663.3,853.2 665.3,854.6 667.3,856.0 669.4,857.4 671.5,858.7 673.5,860.1 675.6,861.4 677.8,862.7 679.9,864.0 682.0,865.3 684.2,866.5 686.4,867.7 688.5,869.0 690.7,870.2 692.9,871.4 695.2,872.5 697.4,873.7 699.6,874.8 701.9,875.9 704.1,877.0 706.4,878.1 708.7,879.2 711.0,880.3 713.3,881.3 715.6,882.4 717.9,883.4 720.3,884.4 722.6,885.4 725.0,886.3 727.3,887.3 729.7,888.3 732.1,889.2 734.4,890.1 736.8,891.0 739.2,891.9 741.6,892.8 744.0,893.7 746.5,894.5 748.9,895.4 751.3,896.2 753.7,897.0 756.2,897.9 758.6,898.7 761.0,899.4 763.5,900.2 765.9,901.0 768.4,901.7 770.9,902.5 773.3,903.2 775.8,904.0 778.2,904.7 780.7,905.4 783.2,906.1 785.6,906.8 788.1,907.4 790.6,908.1 793.1,908.8 795.5,909.4 798.0,910.1 800.5,910.7 803.0,911.3 805.4,911.9 807.9,912.5 810.4,913.2 812.8,913.7 815.3,914.3 817.8,914.9 820.3,915.5 822.7,916.0 825.2,916.6 827.7,917.1 830.2,917.7 832.6,918.2 835.1,918.7 837.6,919.2 840.0,919.8 842.5,920.3 845.0,920.7 847.5,921.2 849.9,921.7 852.4,922.2 854.9,922.7 857.4,923.1 859.8,923.6 862.3,924.0 864.8,924.5 867.3,924.9 869.7,925.3 872.2,925.8 874.7,926.2 877.2,926.6 879.6,927.0 882.1,927.4 884.6,927.8 887.1,928.2 889.5,928.5 892.0,928.9 894.5,929.3 897.0,929.7 899.4,930.0 901.9,930.4 904.4,930.7 906.9,931.1 909.3,931.4 911.8,931.7 914.3,932.1 916.8,932.4 919.2,932.7 921.7,933.0 924.2,933.3 926.7,933.6 929.2,933.9 931.6,934.2 934.1,934.5 936.6,934.8 939.1,935.1 941.5,935.4 944.0,935.7 946.5,935.9 949.0,936.2 951.5,936.5 953.9,936.7 956.4,937.0 958.9,937.3 961.4,937.5 963.9,937.8 966.3,938.0 968.8,938.3 971.3,938.5 973.8,938.7 976.3,939.0 978.7,939.2 981.2,939.4 983.7,939.7 986.2,939.9 988.7,940.1 991.2,940.3 993.6,940.5 996.1,940.8 998.6,941.0 1001.1,941.2 1003.6,941.4 1006.1,941.6 1008.5,941.8 1011.0,942.0 1013.5,942.2 1016.0,942.4 1018.5,942.6 1021.0,942.8 1023.5,943.0 1025.9,943.2 1028.4,943.4 1030.9,943.6 1033.4,943.8 1035.9,943.9 1038.4,944.1 1040.9,944.3 1043.4,944.5 1045.8,944.7 1048.3,944.9 1050.8,945.1 1053.3,945.3 1055.8,945.4 1058.3,945.6 1060.8,945.8 1063.3,946.0 1065.8,946.2 1068.3,946.4 1070.8,946.5 1073.2,946.7 1075.7,946.9 1078.2,947.1 1080.7,947.3 1083.2,947.5 1085.7,947.7 1088.2,947.9 1090.7,948.0 1093.2,948.2 1095.7,948.4 1098.2,948.6 1100.7,948.8 1103.2,949.0 1105.7,949.2 1108.2,949.4 1110.7,949.6 1113.2,949.8 1115.7,950.0 1118.2,950.2 1120.7,950.4 1123.2,950.6 1125.7,950.8 1128.2,951.0 1130.7,951.2 1133.2,951.4 1135.7,951.6 1138.2,951.8 1140.7,952.0 1143.2,952.2 1145.7,952.4 1148.2,952.6 1150.7,952.8 1153.2,953.0 1155.7,953.2 1158.2,953.5 1160.7,953.7 1163.2,953.9 1165.7,954.1 1168.2,954.3 1170.7,954.5 1173.3,954.7 1175.8,954.9 1178.3,955.1 1180.8,955.3 1183.3,955.6 1185.8,955.8 1188.3,956.0 1190.8,956.2 1193.3,956.4 1195.8,956.6 1198.3,956.8 1200.8,957.1 1203.3,957.3 1205.9,957.5 1208.4,957.7 1210.9,957.9 1213.4,958.1 1215.9,958.3 1218.4,958.5 1220.9,958.8 1223.4,959.0 1225.9,959.2 1228.5,959.4 1231.0,959.6 1233.5,959.8 1236.0,960.0 1238.5,960.3 1241.0,960.5 1243.5,960.7 1246.0,960.9 1248.5,961.1 1251.1,961.3 1253.6,961.5 1256.1,961.7 1258.6,961.9 1261.1,962.2 1263.6,962.4 1266.1,962.6 1268.7,962.8 1271.2,963.0 1273.7,963.2 1276.2,963.4 1278.7,963.6 1281.2,963.8 1283.7,964.0 1286.3,964.2 1288.8,964.4 1291.3,964.6 1293.8,964.8 1296.3,965.0 1298.8,965.2 1301.3,965.4 1303.9,965.6 1306.4,965.8 1308.9,966.0 1311.4,966.2 1313.9,966.4 1316.4,966.6 1318.9,966.8 1321.5,967.0 1324.0,967.2 1326.5,967.4 1329.0,967.6 1331.5,967.8 1334.0,968.0 1336.5,968.2 1339.1,968.4 1341.6,968.5 1344.1,968.7 1346.6,968.9 1349.1,969.1 1351.6,969.3 1354.2,969.5 1356.7,969.6 1359.2,969.8 1361.7,970.0 1364.2,970.2 1366.7,970.4 1369.2,970.5 1371.8,970.7 1374.3,970.9 1376.8,971.0 1379.3,971.2 1381.8,971.4 1384.3,971.5 1386.8,971.7 1389.4,971.9 1391.9,972.0 1394.4,972.2 1396.9,972.3 1399.4,972.5 1401.9,972.7 1404.4,972.8 1407.0,973.0 1409.5,973.1 1412.0,973.3 1414.5,973.4 1417.0,973.6 1419.5,973.7 1422.0,973.8 1424.5,974.0 1427.1,974.1 1429.6,974.2 1432.1,974.4 1434.6,974.5 1437.1,974.6 1439.6,974.8 1442.1,974.9 1444.6,975.0 1447.1,975.2 1449.7,975.3 1452.2,975.4 1454.7,975.5 1457.2,975.6 1459.7,975.7 1462.2,975.8 1464.7,976.0 1467.2,976.1 1469.7,976.2 1472.2,976.3 1474.8,976.4 1477.3,976.5 1479.8,976.6 1482.3,976.7 1484.8,976.7 1487.3,976.8 1489.8,976.9 1492.3,977.0 1494.8,977.1 1497.3,977.2 1499.8,977.3 1502.3,977.3 1504.8,977.4 1507.3,977.5 1509.9,977.5 1512.4,977.6 1514.9,977.7 1517.4,977.7 1519.9,977.8 1522.4,977.8 1524.9,977.9 1527.4,977.9 1529.9,978.0 1532.4,978.0 1534.9,978.1 1537.4,978.1 1539.9,978.1 1542.4,978.2 1544.9,978.2 1547.4,978.2 1549.9,978.3 1552.4,978.3 1554.9,978.3 1557.4,978.3 1559.9,978.3 1562.4,978.4 1564.9,978.4 1567.4,978.4 1569.9,978.4 1572.4,978.4 1574.9,978.4 1577.4,978.4 1579.9,978.3 1582.4,978.3 1584.9,978.3 1587.4,978.3 1589.8,978.3 1592.3,978.2 1594.8,978.2 1597.3,978.2 1599.8,978.2" fill="none" stroke="#0000ff" stroke-width="7.0" stroke-linejoin="round" stroke-linecap="butt"/>
<g stroke="#000" fill="none">
<line x1="306" y1="57.5" x2="1605.5" y2="57.5" stroke-width="5"/>
<line x1="1603" y1="55" x2="1603" y2="1011" stroke-width="5.5"/>
<line x1="296" y1="1008" x2="1605.5" y2="1008" stroke-width="5.5"/>
<line x1="318.5" y1="55" x2="318.5" y2="1030" stroke-width="6"/>
<line x1="317.5" y1="1008" x2="317.5" y2="1030" stroke-width="5"/>
<line x1="445.9" y1="1008" x2="445.9" y2="1021" stroke-width="4.5"/>
<line x1="574.4" y1="1008" x2="574.4" y2="1030" stroke-width="5"/>
<line x1="702.9" y1="1008" x2="702.9" y2="1021" stroke-width="4.5"/>
<line x1="831.3" y1="1008" x2="831.3" y2="1030" stroke-width="5"/>
<line x1="959.8" y1="1008" x2="959.8" y2="1021" stroke-width="4.5"/>
<line x1="1088.2" y1="1008" x2="1088.2" y2="1030" stroke-width="5"/>
<line x1="1216.7" y1="1008" x2="1216.7" y2="1021" stroke-width="4.5"/>
<line x1="1345.1" y1="1008" x2="1345.1" y2="1030" stroke-width="5"/>
<line x1="1473.5" y1="1008" x2="1473.5" y2="1021" stroke-width="4.5"/>
<line x1="1602.0" y1="1008" x2="1602.0" y2="1030" stroke-width="5"/>
<line x1="296.5" y1="1008.0" x2="318" y2="1008.0" stroke-width="5"/>
<line x1="306" y1="921.7" x2="318" y2="921.7" stroke-width="4.5"/>
<line x1="296.5" y1="835.4" x2="318" y2="835.4" stroke-width="5"/>
<line x1="306" y1="749.1" x2="318" y2="749.1" stroke-width="4.5"/>
<line x1="296.5" y1="662.8" x2="318" y2="662.8" stroke-width="5"/>
<line x1="306" y1="576.5" x2="318" y2="576.5" stroke-width="4.5"/>
<line x1="296.5" y1="490.2" x2="318" y2="490.2" stroke-width="5"/>
<line x1="306" y1="403.9" x2="318" y2="403.9" stroke-width="4.5"/>
<line x1="296.5" y1="317.6" x2="318" y2="317.6" stroke-width="5"/>
<line x1="306" y1="231.3" x2="318" y2="231.3" stroke-width="4.5"/>
<line x1="296.5" y1="145.0" x2="318" y2="145.0" stroke-width="5"/>
</g>
<g font-weight="bold" font-size="57" text-anchor="middle" fill="#000">
<text x="316.5" y="1085">300</text>
<text x="573.4" y="1085">400</text>
<text x="830.3" y="1085">500</text>
<text x="1087.2" y="1085">600</text>
<text x="1344.1" y="1085">700</text>
<text x="1601.0" y="1085">800</text>
</g>
<g font-weight="bold" font-size="58" text-anchor="end" fill="#000">
<text x="282.5" y="1015.6">0</text>
<text x="265" y="856.9">1x10</text>
<text x="265" y="684.3">2x10</text>
<text x="265" y="511.7">3x10</text>
<text x="265" y="339.1">4x10</text>
<text x="265" y="166.5">5x10</text>
</g>
<g font-size="37" text-anchor="start" fill="#000">
<text x="265.5" y="824.4">5</text>
<text x="265.5" y="651.8">5</text>
<text x="265.5" y="479.2">5</text>
<text x="265.5" y="306.6">5</text>
<text x="265.5" y="134.0">5</text>
</g>
<text x="727" y="1175" font-weight="bold" font-size="58.4" fill="#000">Wavelength (nm)</text>
<text transform="translate(85.3,944) rotate(-90)" font-weight="bold" font-size="59.2" fill="#000">Absorption Coefficient (cm<tspan font-size="36" dy="-34" dx="2">-1</tspan><tspan dy="34" dx="3">)</tspan></text>
<text x="929" y="153" font-weight="bold" font-size="59" fill="#000">CuCr<tspan font-size="32" dy="21.4">1-x</tspan><tspan dy="-21.4">Zn</tspan><tspan font-size="32" dy="21.4">x</tspan><tspan dy="-21.4">O</tspan><tspan font-size="32" dy="21.4">2</tspan></text>
<g font-weight="bold" font-size="45.5" fill="#000">
<text x="926" y="298.0">a</text>
<line x1="962.5" y1="290.0" x2="1099.5" y2="290.0" stroke="#000000" stroke-width="5"/>
<text x="1116" y="298.0">x = 0</text>
<text x="926" y="374.8">b</text>
<line x1="962.5" y1="363.1" x2="1099.5" y2="363.1" stroke="#ff0000" stroke-width="5"/>
<text x="1116" y="374.8">x = 0.025</text>
<text x="926" y="448.5">c</text>
<line x1="962.5" y1="437.8" x2="1099.5" y2="437.8" stroke="#00ff00" stroke-width="5"/>
<text x="1116" y="448.5">x = 0.065</text>
<text x="926" y="525.9">d</text>
<line x1="962.5" y1="516.0" x2="1099.5" y2="516.0" stroke="#0000ff" stroke-width="5"/>
<text x="1116" y="525.9">x = 0.085</text>
</g>
<g font-weight="bold" font-size="46" fill="#000">
<text x="422" y="119">c</text>
<text x="494" y="169.6">d</text>
<text x="341" y="368.7">a</text>
<text x="399" y="404.1">b</text>
</g>
<line x1="419.4" y1="118.3" x2="397.2" y2="140.9" stroke="#000" stroke-width="3.0"/><polygon points="380.4,158.0 393.3,134.2 404.0,144.7" fill="#000"/>
<line x1="485.7" y1="160.0" x2="416.3" y2="182.7" stroke="#000" stroke-width="3.0"/><polygon points="393.5,190.2 415.9,175.0 420.5,189.2" fill="#000"/>
<line x1="356.0" y1="323.4" x2="356.0" y2="260.0" stroke="#000" stroke-width="3.0"/><polygon points="356.0,236.0 363.5,262.0 348.5,262.0" fill="#000"/>
<line x1="409.4" y1="357.8" x2="409.4" y2="306.5" stroke="#000" stroke-width="3.0"/><polygon points="409.4,282.5 416.9,308.5 401.9,308.5" fill="#000"/>
</svg></body></html>
